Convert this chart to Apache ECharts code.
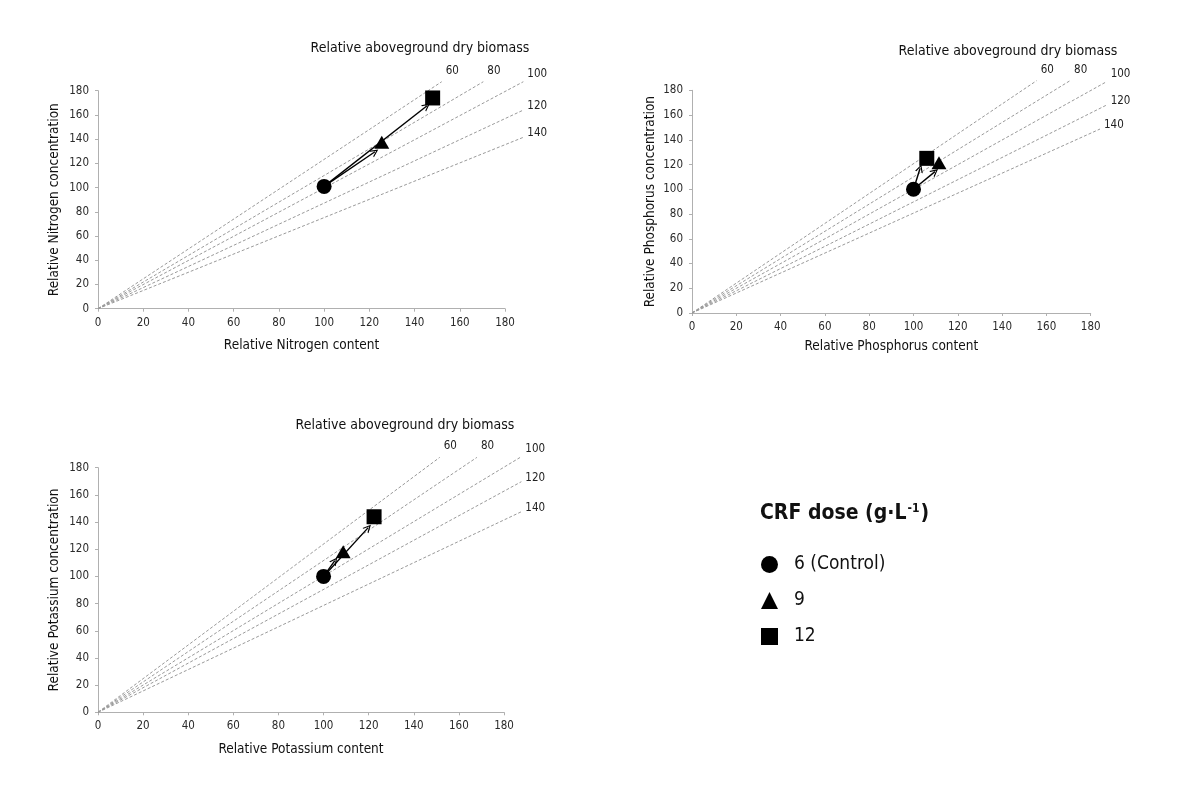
<!DOCTYPE html>
<html>
<head>
<meta charset="utf-8">
<style>
  html, body { margin: 0; padding: 0; background: #ffffff; }
  #chart { width: 1204px; height: 798px; }
</style>
<script src="https://cdn.jsdelivr.net/npm/echarts@6/dist/echarts.min.js"></script>
</head>
<body>
<div id="chart"></div>
<script>
// ---------- data ----------
const biomassLevels = ['60', '80', '100', '120', '140'];
const doses = ['6 (Control)', '9', '12'];

// isoline end points [content, concentration], each line starts at origin
const nIsoEnds = [[152.0, 187.4], [170.4, 187.4], [188.1, 187.4], [188.1, 164.0], [188.1, 141.5]];
const pIsoEnds = [[155.6, 187.8], [170.7, 187.8], [187.2, 187.0], [187.2, 168.1], [184.2, 148.7]];
const kIsoEnds = [[151.5, 187.6], [168.0, 187.6], [187.7, 188.1], [187.7, 169.7], [187.7, 147.6]];

// dose points [content, concentration] in order 6, 9, 12
const nPoints = [[100, 101], [125.5, 137.5], [148, 174]];
const pPoints = [[100, 100], [111.5, 121.5], [106, 125]];
const kPoints = [[100, 100], [108.7, 118.2], [122.4, 143.9]];

// arrow tips (arrows start at the control point): to 9, to 12
const nArrowTips = [[122.5, 129.6], [145.4, 167.4]];
const pArrowTips = [[109.7, 114.3], [103.0, 117.0]];
const kArrowTips = [[105.0, 111.6], [119.8, 135.9]];

const panels = [
  { x: 'Relative Nitrogen content', y: 'Relative Nitrogen concentration', iso: nIsoEnds, pts: nPoints, tips: nArrowTips },
  { x: 'Relative Phosphorus content', y: 'Relative Phosphorus concentration', iso: pIsoEnds, pts: pPoints, tips: pArrowTips },
  { x: 'Relative Potassium content', y: 'Relative Potassium concentration', iso: kIsoEnds, pts: kPoints, tips: kArrowTips }
];

// ---------- layout / style ----------
const FONT = "'Liberation Sans Narrow', 'Arial Narrow', 'DejaVu Sans Condensed', sans-serif";
const grids = [
  { left: 98, top: 90.7, width: 407, height: 218 },
  { left: 692, top: 90.3, width: 398.7, height: 222.7 },
  { left: 98, top: 467.7, width: 406, height: 244.6 }
];
const xNameGaps = [30, 26.5, 30.5];
const yNameGaps = [37, 35, 37];
const titleCenters = [[420, 41], [1008, 44], [405, 418.5]];
const isoLabelOffsets = [[0, -11], [0, -11], [0, -8], [0, -4], [0, -4]];
const symbols = ['circle', 'triangle', 'rect'];
const symbolSizes = [[15, 15], [15, 13], [15, 15]];
const chevron = 'path://M0,10 L5,0 L10,10 L8.4,10 L5,3.2 L1.6,10 Z';

const axisCommon = {
  min: 0, max: 180, interval: 20,
  axisLine: { lineStyle: { color: '#b0b0b0', width: 1 } },
  axisTick: { show: true, length: 3, lineStyle: { color: '#b0b0b0' } },
  axisLabel: { color: '#2a2a2a', fontSize: 11.5, fontFamily: FONT },
  splitLine: { show: false },
  nameLocation: 'middle',
  nameTextStyle: { color: '#111', fontSize: 13.5, fontFamily: FONT }
};

const xAxes = [], yAxes = [], series = [], titles = [];
panels.forEach((p, i) => {
  xAxes.push(Object.assign({}, axisCommon, { gridIndex: i, type: 'value', name: p.x, nameGap: xNameGaps[i] }));
  yAxes.push(Object.assign({}, axisCommon, { gridIndex: i, type: 'value', name: p.y, nameGap: yNameGaps[i], axisLabel: Object.assign({}, axisCommon.axisLabel, { margin: 9 }) }));
  titles.push({
    text: 'Relative aboveground dry biomass',
    left: titleCenters[i][0], top: titleCenters[i][1], textAlign: 'center', padding: 0,
    textStyle: { fontSize: 14, fontWeight: 'normal', color: '#111', fontFamily: FONT }
  });
  // isolines
  series.push({
    type: 'lines', coordinateSystem: 'cartesian2d', xAxisIndex: i, yAxisIndex: i,
    data: p.iso.map(end => ({ coords: [[0, 0], end] })),
    clip: false, silent: true,
    lineStyle: { color: '#9a9a9a', width: 1, type: [3, 2], opacity: 1, curveness: 0 },
    z: 1
  });
  // isoline labels
  series.push({
    type: 'scatter', xAxisIndex: i, yAxisIndex: i,
    data: p.iso.map((end, k) => ({
      value: end,
      label: { show: true, formatter: biomassLevels[k], position: 'right', distance: 4, offset: isoLabelOffsets[k] }
    })),
    symbolSize: 0.01, clip: false, silent: true,
    label: { color: '#222', fontSize: 11.5, fontFamily: FONT, opacity: 1 },
    itemStyle: { color: 'rgba(0,0,0,0)', opacity: 1 },
    z: 2
  });
  // arrows
  series.push({
    type: 'lines', coordinateSystem: 'cartesian2d', xAxisIndex: i, yAxisIndex: i,
    data: p.tips.map(t => ({ coords: [p.pts[0], t] })),
    symbol: ['none', chevron], symbolSize: 8,
    lineStyle: { color: '#000', width: 1.4, opacity: 1, curveness: 0 },
    silent: true, z: 3
  });
  // dose points
  p.pts.forEach((pt, d) => {
    series.push({
      type: 'scatter', xAxisIndex: i, yAxisIndex: i, name: doses[d],
      data: [pt], symbol: symbols[d], symbolSize: symbolSizes[d],
      itemStyle: { color: '#000', opacity: 1 }, z: 4, silent: true
    });
  });
});

const chart = echarts.init(document.getElementById('chart'), null, { renderer: 'canvas' });
chart.setOption({
  animation: false,
  backgroundColor: '#ffffff',
  title: titles,
  grid: grids,
  xAxis: xAxes,
  yAxis: yAxes,
  legend: {
    orient: 'vertical', left: 756, top: 550,
    itemWidth: 17, itemHeight: 17, itemGap: 17,
    data: doses.map((d, i) => ({ name: d, icon: symbols[i] })),
    itemStyle: { color: '#000' },
    textStyle: { fontSize: 19, color: '#111', fontFamily: FONT, padding: [0, 0, 0, 11] },
    selectedMode: false
  },
  graphic: [{
    type: 'text', left: 760, top: 503,
    style: {
      text: '{b|CRF dose (g·L}{s|-1}{b|)}',
      rich: {
        b: { fontSize: 21, fontWeight: 'bold', fontFamily: FONT, fill: '#111' },
        s: { fontSize: 12, fontWeight: 'bold', fontFamily: FONT, fill: '#111', padding: [0, 1, 9, 1] }
      }
    }
  }],
  series: series
});
</script>
</body>
</html>
